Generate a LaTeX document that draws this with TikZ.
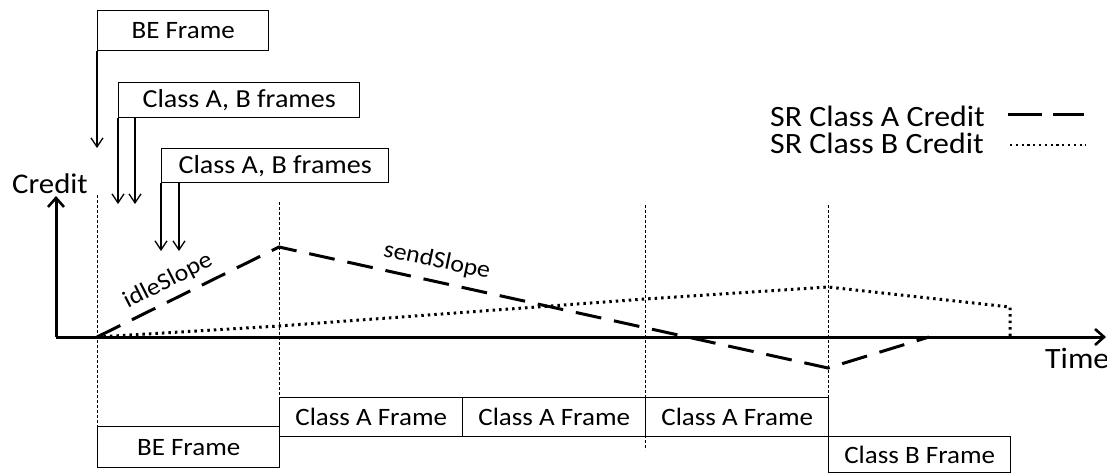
\documentclass[tikz,border=0pt]{standalone}
\usepackage{fontspec}
\setmainfont{Carlito}
\usepackage{graphicx}
\usetikzlibrary{arrows.meta}
\newcommand{\sx}[1]{\scalebox{1.08}[1]{#1}}
\newcommand{\fs}[1]{\fontsize{#1}{#1}\selectfont}
\begin{document}
\begin{tikzpicture}[x=1pt,y=-1pt,
  box/.style={draw, line width=1.4pt, inner sep=0pt, anchor=north west, font=\fs{25}},
  lbl/.style={inner sep=0pt, font=\fs{25}},
  evt/.style={line width=1.3pt, -{Straight Barb[length=9pt,width=12pt,line width=1.3pt]}},
  axis/.style={line width=3pt, -{Straight Barb[length=9pt,width=16pt,line width=2.6pt]}},
  guide/.style={line width=1pt, dash pattern=on 3pt off 2pt},
  credA/.style={line width=3pt, dash pattern=on 26pt off 13pt},
  credB/.style={line width=3pt, dash pattern=on 2.5pt off 4pt},
]
\useasboundingbox (0,0) rectangle (1107,475);

% top event boxes
\node[box, minimum width=171pt, minimum height=40pt] (be1) at (97,10) {\sx{BE Frame}};
\node[box, minimum width=241pt, minimum height=35pt, font=\fs{26}] (ab1) at (118,82) {\sx{Class A, B frames}};
\node[box, minimum width=227pt, minimum height=34pt, font=\fs{26}] (ab2) at (161,148) {\sx{Class A, B frames}};

% event arrow coordinates
\coordinate (e1) at (97,148);
\coordinate (s2) at (135,117);
\coordinate (e2a) at (118,204);
\coordinate (e2b) at (135,204);
\coordinate (s3) at (179,182);
\coordinate (e3a) at (161,251);
\coordinate (e3b) at (179,251);

\draw[evt] (be1.south west) -- (e1);
\draw[evt] (ab1.south west) -- (e2a);
\draw[evt] (s2) -- (e2b);
\draw[evt] (ab2.south west) -- (e3a);
\draw[evt] (s3) -- (e3b);

% axes
\coordinate (o) at (56,337);
\coordinate (ytop) at (56,196);
\coordinate (xend) at (1106,337);
\draw[axis] (o) -- (ytop);
\draw[axis] (o) -- (xend);
\node[lbl, font=\fs{28.5}, anchor=base west] (credit) at (12,193) {\sx{Credit}};
\node[lbl, font=\fs{29.5}, anchor=base west] (time) at (1045,368) {\sx{Time}};

% guide lines
\coordinate (g1t) at (97,195);
\coordinate (g1b) at (97,426);
\coordinate (g2t) at (279,202);
\coordinate (g2b) at (279,397);
\coordinate (g3t) at (645,205);
\coordinate (g3b) at (645,450);
\coordinate (g4t) at (828,205);
\coordinate (g4b) at (828,397);
\draw[guide] (g1t) -- (g1b);
\draw[guide] (g2t) -- (g2b);
\draw[guide] (g3t) -- (g3b);
\draw[guide] (g4t) -- (g4b);

% bottom frame boxes
\node[box, minimum width=182pt, minimum height=41pt] (be2) at (97,426) {\sx{BE Frame}};
\node[box, minimum width=183pt, minimum height=39pt] (a1) at (279,397) {\sx{Class A Frame}};
\node[box, minimum width=183pt, minimum height=39pt] (a2) at (462,397) {\sx{Class A Frame}};
\node[box, minimum width=183pt, minimum height=39pt] (a3) at (645,397) {\sx{Class A Frame}};
\node[box, minimum width=182pt, minimum height=36pt] (b1) at (828,436) {\sx{Class B Frame}};

% credit curves
\coordinate (p0) at (97,337);
\coordinate (pa1) at (279,247);
\coordinate (pa2) at (828,368);
\coordinate (pa3) at (929,337);
\draw[credA, line join=miter] (p0) -- (pa1) -- (pa2) -- (pa3);
\coordinate (pb1) at (279,326);
\coordinate (pb2) at (645,299);
\coordinate (pb3) at (828,287);
\coordinate (pb4) at (1010,307);
\coordinate (pb5) at (1010,337);
\draw[credB] (p0) -- (pb1) -- (pb2) -- (pb3) -- (pb4) -- (pb5);

\node[lbl, font=\fs{24}, rotate=27] (idle) at (168,281) {\sx{idleSlope}};
\node[lbl, font=\fs{24}, rotate=-12] (send) at (437,261) {\sx{sendSlope}};

% legend
\node[lbl, font=\fs{29.5}, anchor=base west] (legA) at (770,126) {\sx{SR Class A Credit}};
\node[lbl, font=\fs{29.5}, anchor=base west] (legB) at (770,153) {\sx{SR Class B Credit}};
\coordinate (la1) at (1008,114);
\coordinate (la2) at (1084,114);
\coordinate (lb1) at (1010,145);
\coordinate (lb2) at (1086,145);
\draw[line width=3pt, dash pattern=on 34pt off 11pt] (la1) -- (la2);
\draw[line width=2.4pt, dash pattern=on 2.2pt off 3.6pt] (lb1) -- (lb2);
\end{tikzpicture}
\end{document}
